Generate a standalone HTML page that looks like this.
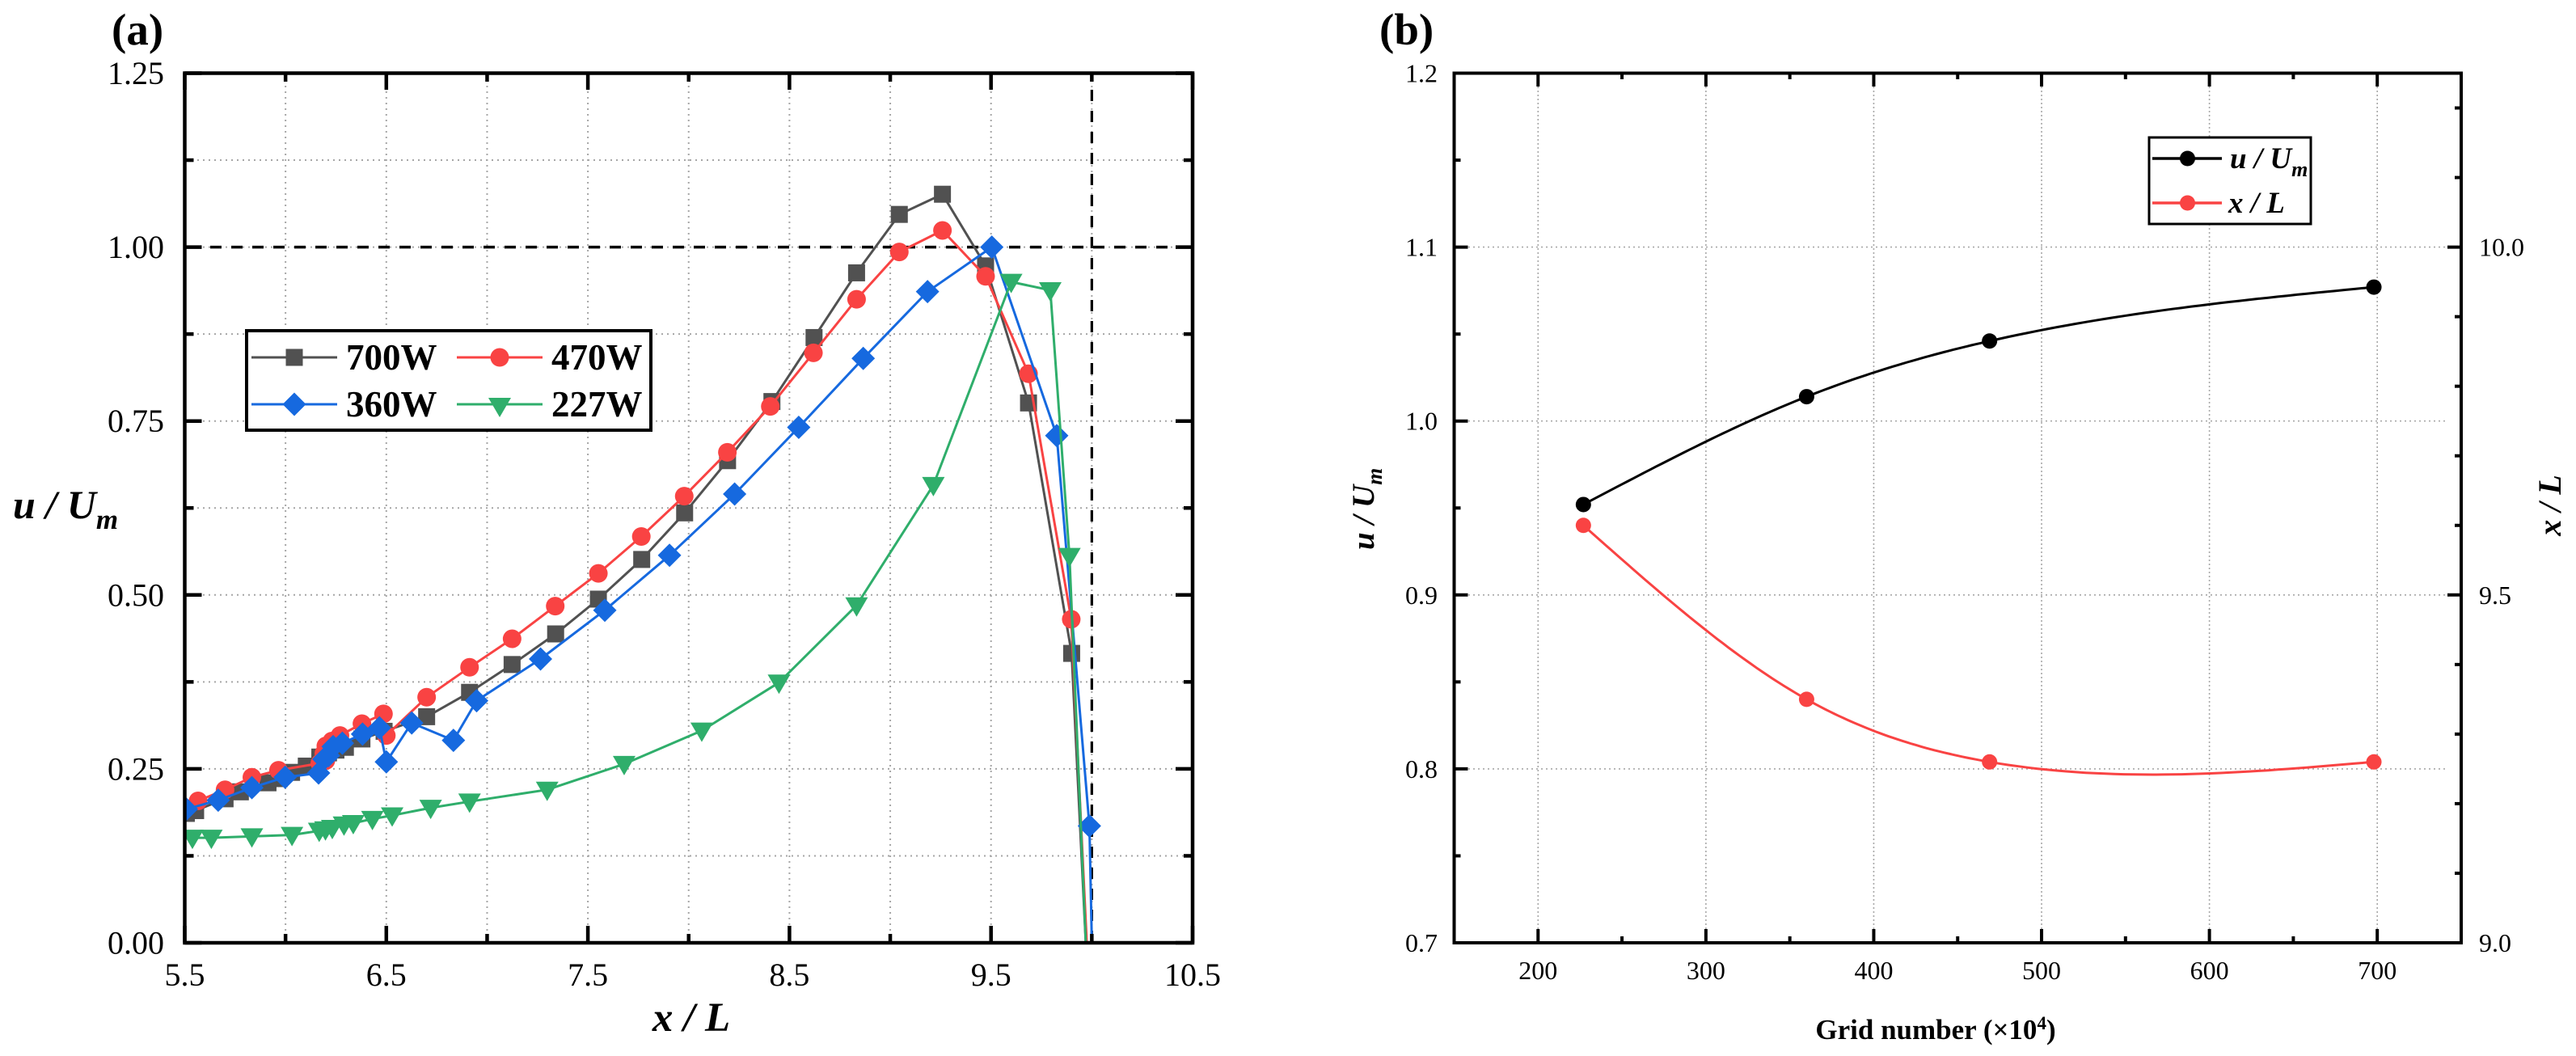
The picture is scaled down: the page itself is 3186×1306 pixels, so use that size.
<!DOCTYPE html>
<html lang="en">
<head>
<meta charset="utf-8">
<title>Velocity ratio and grid independence charts</title>
<style>
html,body{margin:0;padding:0;background:#fff;}
svg{display:block;font-family:"Liberation Serif","Times New Roman",serif;}
.title{font-weight:bold;font-style:italic;fill:#000;}
</style>
</head>
<body>
<svg id="figure" xmlns="http://www.w3.org/2000/svg" width="3186" height="1306" viewBox="0 0 3186 1306">
  <rect x="0" y="0" width="3186" height="1306" fill="#ffffff"/>
  <defs>
    <clipPath id="clip-a"><rect x="228.5" y="90.5" width="1246.5" height="1075.5"/></clipPath>
    <clipPath id="clip-b"><rect x="1798.5" y="90.5" width="1245.5" height="1075.5"/></clipPath>
  </defs>

  <g id="panel-a">
    <g id="grid-a"></g>
    <g id="refs-a"></g>
    <g id="marks-a" clip-path="url(#clip-a)"></g>
    <g id="ticks-a"></g>
    <rect x="228.5" y="90.5" width="1246.5" height="1075.5" fill="none" stroke="#000" stroke-width="4.5"/>
    <text x="138" y="55" font-size="55" font-weight="bold">(a)</text>
    <text class="title" x="855" y="1275" font-size="51" text-anchor="middle" xml:space="preserve">x / L</text>
    <text class="title" x="16" y="641" font-size="50" xml:space="preserve">u / U<tspan font-size="35" dy="13">m</tspan></text>
    <g>
      <rect x="305" y="409" width="500" height="123" fill="#fff" stroke="#000" stroke-width="4"/>
      <g>
        <line x1="311" y1="442" x2="417" y2="442" stroke="#515151" stroke-width="3"/>
        <rect x="353.5" y="431.5" width="21" height="21" fill="#515151"/>
        <text x="428" y="457" font-size="45" font-weight="bold">700W</text>
      </g>
      <g>
        <line x1="565" y1="442" x2="671" y2="442" stroke="#F94343" stroke-width="3"/>
        <circle cx="618" cy="442" r="11.5" fill="#F94343"/>
        <text x="682" y="457" font-size="45" font-weight="bold">470W</text>
      </g>
      <g>
        <line x1="311" y1="500" x2="417" y2="500" stroke="#1669DF" stroke-width="3"/>
        <polygon points="364,485.5 378.5,500 364,514.5 349.5,500" fill="#1669DF"/>
        <text x="428" y="515" font-size="45" font-weight="bold">360W</text>
      </g>
      <g>
        <line x1="565" y1="500" x2="671" y2="500" stroke="#2FAE6B" stroke-width="3"/>
        <polygon points="604,492 632,492 618,516" fill="#2FAE6B"/>
        <text x="682" y="515" font-size="45" font-weight="bold">227W</text>
      </g>
    </g>
  </g>

  <g id="panel-b">
    <g id="grid-b"></g>
    <g id="marks-b" clip-path="url(#clip-b)"></g>
    <g id="ticks-b"></g>
    <rect x="1798.5" y="90.5" width="1245.5" height="1075.5" fill="none" stroke="#000" stroke-width="4"/>
    <text x="1706" y="55" font-size="55" font-weight="bold">(b)</text>
    <text x="2394" y="1285" font-size="35" font-weight="bold" text-anchor="middle">Grid number (×10<tspan font-size="23" dy="-12">4</tspan><tspan dy="12">)</tspan></text>
    <text class="title" transform="translate(1699,680) rotate(-90)" x="0" y="0" font-size="39" xml:space="preserve">u / U<tspan font-size="27" dy="10">m</tspan></text>
    <text class="title" transform="translate(3167,625) rotate(-90)" x="0" y="0" font-size="40" text-anchor="middle" xml:space="preserve">x / L</text>
    <g>
      <rect x="2658" y="170" width="200" height="107" fill="#fff" stroke="#000" stroke-width="3"/>
      <g>
        <line x1="2662" y1="196" x2="2748" y2="196" stroke="#000" stroke-width="3.5"/>
        <circle cx="2705.5" cy="196" r="9.5" fill="#000"/>
        <text class="title" x="2758" y="208" font-size="37" xml:space="preserve">u / U<tspan font-size="26" dy="10">m</tspan></text>
      </g>
      <g>
        <line x1="2662" y1="251" x2="2748" y2="251" stroke="#F94343" stroke-width="3.5"/>
        <circle cx="2705.5" cy="251" r="9.5" fill="#F94343"/>
        <text class="title" x="2756" y="263" font-size="37" xml:space="preserve">x / L</text>
      </g>
    </g>
  </g>
</svg>

<script>
// Panel (a) axis arrays
const xMajorLabelsA = ['5.5', '6.5', '7.5', '8.5', '9.5', '10.5'];
const xMinorValuesA = [6, 7, 8, 9, 10];
const yMajorLabelsA = ['0.00', '0.25', '0.50', '0.75', '1.00', '1.25'];
const yMinorValuesA = [0.125, 0.375, 0.625, 0.875, 1.125];

// Panel (a) series: 700W
const x700W = [5.508, 5.554, 5.7, 5.776, 5.913, 5.968, 6.03, 6.103, 6.17, 6.213, 6.25, 6.297, 6.379, 6.489, 6.7, 6.913, 7.124, 7.34, 7.552, 7.767, 7.98, 8.193, 8.413, 8.622, 8.833, 9.045, 9.259, 9.473, 9.686, 9.9, 9.97];
const y700W = [0.186, 0.19, 0.207, 0.217, 0.23, 0.236, 0.245, 0.254, 0.267, 0.273, 0.277, 0.281, 0.293, 0.304, 0.325, 0.36, 0.4, 0.444, 0.494, 0.551, 0.618, 0.693, 0.778, 0.87, 0.963, 1.047, 1.076, 0.973, 0.776, 0.416, 0];

// Panel (a) series: 470W
const x470W = [5.566, 5.7, 5.833, 5.965, 6.17, 6.2, 6.19, 6.2, 6.23, 6.27, 6.379, 6.486, 6.5, 6.7, 6.913, 7.124, 7.338, 7.552, 7.765, 7.978, 8.192, 8.405, 8.619, 8.833, 9.045, 9.259, 9.473, 9.686, 9.898, 9.975];
const y470W = [0.204, 0.22, 0.238, 0.248, 0.258, 0.262, 0.272, 0.283, 0.29, 0.298, 0.315, 0.329, 0.298, 0.353, 0.396, 0.437, 0.484, 0.531, 0.584, 0.642, 0.705, 0.771, 0.848, 0.925, 0.993, 1.024, 0.958, 0.818, 0.465, 0];

// Panel (a) series: 360W
const x360W = [5.508, 5.666, 5.833, 5.998, 6.164, 6.19, 6.213, 6.236, 6.282, 6.382, 6.466, 6.5, 6.626, 6.833, 6.948, 7.265, 7.584, 7.905, 8.228, 8.546, 8.866, 9.185, 9.504, 9.826, 9.988, 10.0];
const y360W = [0.192, 0.205, 0.223, 0.238, 0.244, 0.264, 0.269, 0.282, 0.287, 0.3, 0.309, 0.26, 0.316, 0.291, 0.348, 0.408, 0.478, 0.557, 0.645, 0.741, 0.84, 0.936, 1.0, 0.729, 0.168, 0];

// Panel (a) series: 227W
const x227W = [5.538, 5.632, 5.833, 6.032, 6.167, 6.198, 6.232, 6.29, 6.336, 6.431, 6.529, 6.72, 6.913, 7.298, 7.68, 8.065, 8.448, 8.833, 9.214, 9.6, 9.794, 9.889, 9.97];
const y227W = [0.151, 0.151, 0.153, 0.155, 0.161, 0.163, 0.165, 0.17, 0.172, 0.178, 0.183, 0.194, 0.203, 0.22, 0.257, 0.305, 0.374, 0.485, 0.658, 0.95, 0.938, 0.556, 0];

// Panel (b) axis arrays
const xMajorLabelsB = ['200', '300', '400', '500', '600', '700'];
const xMinorValuesB = [250, 350, 450, 550, 650];
const yLeftMajorLabelsB = ['0.7', '0.8', '0.9', '1.0', '1.1', '1.2'];
const yLeftMinorValuesB = [0.75, 0.85, 0.95, 1.05, 1.15];
const yRightMajorLabelsB = ['9.0', '9.5', '10.0'];
const yRightMinorValuesB = [9.1, 9.2, 9.3, 9.4, 9.6, 9.7, 9.8, 9.9, 10.1, 10.2];

// Panel (b) series
const gridNumbers = [227, 360, 469, 698];
const velocityRatio = [0.952, 1.014, 1.046, 1.077];
const positionRatio = [9.6, 9.35, 9.26, 9.26];

// Reference line values in panel (a)
const refYValue = [1.0];
const refXValue = [10.0];

const SVGNS = 'http://www.w3.org/2000/svg';

function xA(v) { return 228.5 + (v - 5.5) * 249.3; }
function yA(v) { return 1166 - v * 860.4; }
function xB(v) { return 1798.5 + (v - 150) * 2.0758; }
function yBL(v) { return 1166 - (v - 0.7) * 2151; }
function yBR(v) { return 1166 - (v - 9) * 860.4; }

function makeEl(tag, parentId, name, attrs) {
  const el = document.createElementNS(SVGNS, tag);
  
  
  for (const k in attrs) el.setAttribute(k, attrs[k]);
  document.getElementById(parentId).appendChild(el);
  return el;
}

function line(parentId, name, x1, y1, x2, y2, stroke, width, dash, offset) {
  const a = { x1: x1, y1: y1, x2: x2, y2: y2, stroke: stroke, 'stroke-width': width };
  if (dash) a['stroke-dasharray'] = dash;
  if (offset) a['stroke-dashoffset'] = offset;
  return makeEl('line', parentId, name, a);
}

function label(parentId, name, x, y, txt, size, anchor) {
  const t = makeEl('text', parentId, name, { x: x, y: y, 'font-size': size, 'text-anchor': anchor, fill: '#000' });
  t.textContent = txt;
  return t;
}

/* ---------- Panel (a) axes ---------- */
const gridColA = '#a6a6a6';
const allXA = xMajorLabelsA.map(Number).concat(xMinorValuesA);
const allYA = yMajorLabelsA.map(Number).concat(yMinorValuesA);
allXA.forEach(function (v) {
  if (v > 5.5 && v < 10.5) line('grid-a', 'vertical-gridline-a', xA(v), 92, xA(v), 1164, gridColA, 2, '2 5');
});
allYA.forEach(function (v) {
  if (v > 0 && v < 1.25) line('grid-a', 'horizontal-gridline-a', 230, yA(v), 1473, yA(v), gridColA, 2, '2 5');
});

refYValue.forEach(function (v) {
  line('refs-a', 'reference-line-y-1', 228.5, yA(v), 1475, yA(v), '#000', 3.5, '14 12', 20.5);
});
refXValue.forEach(function (v) {
  line('refs-a', 'reference-line-x-10', xA(v), 90, xA(v), 1166, '#000', 3.2, '14 12', 5);
});

xMajorLabelsA.forEach(function (s) {
  const v = Number(s);
  line('ticks-a', 'x-major-tick-bottom-a', xA(v), 1166, xA(v), 1145, '#000', 4.5);
  line('ticks-a', 'x-major-tick-top-a', xA(v), 90, xA(v), 111, '#000', 4.5);
  label('ticks-a', 'x-tick-label-a', xA(v), 1219, s, 40, 'middle');
});
xMinorValuesA.forEach(function (v) {
  line('ticks-a', 'x-minor-tick-bottom-a', xA(v), 1166, xA(v), 1155, '#000', 4.5);
  line('ticks-a', 'x-minor-tick-top-a', xA(v), 90, xA(v), 101, '#000', 4.5);
});
yMajorLabelsA.forEach(function (s) {
  const v = Number(s);
  line('ticks-a', 'y-major-tick-left-a', 228.5, yA(v), 249.5, yA(v), '#000', 4.5);
  line('ticks-a', 'y-major-tick-right-a', 1475, yA(v), 1454, yA(v), '#000', 4.5);
  label('ticks-a', 'y-tick-label-a', 203, yA(v) + 13.5, s, 40, 'end');
});
yMinorValuesA.forEach(function (v) {
  line('ticks-a', 'y-minor-tick-left-a', 228.5, yA(v), 239.5, yA(v), '#000', 4.5);
  line('ticks-a', 'y-minor-tick-right-a', 1475, yA(v), 1464, yA(v), '#000', 4.5);
});

/* ---------- Panel (a) series ---------- */
function drawSeriesA(name, xs, ys, color, shape) {
  const pts = xs.map(function (x, i) { return xA(x).toFixed(1) + ',' + yA(ys[i]).toFixed(1); }).join(' ');
  makeEl('polyline', 'marks-a', 'series-line-' + name, { points: pts, fill: 'none', stroke: color, 'stroke-width': 3, 'stroke-linejoin': 'round' });
  xs.forEach(function (x, i) {
    const cx = xA(x), cy = yA(ys[i]);
    const isEndpoint = ys[i] === 0;
    if (isEndpoint) return;
    if (shape === 'square') {
      makeEl('rect', 'marks-a', 'marker-' + name, { x: cx - 10.5, y: cy - 10.5, width: 21, height: 21, fill: color });
    } else if (shape === 'circle') {
      makeEl('circle', 'marks-a', 'marker-' + name, { cx: cx, cy: cy, r: 11.5, fill: color });
    } else if (shape === 'diamond') {
      makeEl('polygon', 'marks-a', 'marker-' + name, { points: cx + ',' + (cy - 14.5) + ' ' + (cx + 14.5) + ',' + cy + ' ' + cx + ',' + (cy + 14.5) + ' ' + (cx - 14.5) + ',' + cy, fill: color });
    } else {
      makeEl('polygon', 'marks-a', 'marker-' + name, { points: (cx - 14) + ',' + (cy - 10) + ' ' + (cx + 14) + ',' + (cy - 10) + ' ' + cx + ',' + (cy + 14), fill: color });
    }
  });
}
drawSeriesA('700w', x700W, y700W, '#515151', 'square');
drawSeriesA('470w', x470W, y470W, '#F94343', 'circle');
drawSeriesA('360w', x360W, y360W, '#1669DF', 'diamond');
drawSeriesA('227w', x227W, y227W, '#2FAE6B', 'triangle');

/* ---------- Panel (b) axes ---------- */
const gridColB = '#a8a8a8';
xMajorLabelsB.forEach(function (s) {
  const v = Number(s);
  line('grid-b', 'vertical-gridline-b', xB(v), 92, xB(v), 1164, gridColB, 1.6, '2 3');
  line('ticks-b', 'x-major-tick-bottom-b', xB(v), 1166, xB(v), 1149, '#000', 4);
  line('ticks-b', 'x-major-tick-top-b', xB(v), 90, xB(v), 107, '#000', 4);
  label('ticks-b', 'x-tick-label-b', xB(v), 1211, s, 32, 'middle');
});
xMinorValuesB.forEach(function (v) {
  line('ticks-b', 'x-minor-tick-bottom-b', xB(v), 1166, xB(v), 1158, '#000', 4);
  line('ticks-b', 'x-minor-tick-top-b', xB(v), 90, xB(v), 98, '#000', 4);
});
yLeftMajorLabelsB.forEach(function (s) {
  const v = Number(s);
  if (v > 0.7 && v < 1.2) line('grid-b', 'horizontal-gridline-b', 1816, yBL(v), 3026, yBL(v), gridColB, 1.6, '2 4');
  line('ticks-b', 'y-left-major-tick-b', 1798.5, yBL(v), 1815.5, yBL(v), '#000', 4);
  label('ticks-b', 'y-left-tick-label-b', 1778, yBL(v) + 11, s, 32, 'end');
});
yLeftMinorValuesB.forEach(function (v) {
  line('ticks-b', 'y-left-minor-tick-b', 1798.5, yBL(v), 1806.5, yBL(v), '#000', 4);
});
yRightMajorLabelsB.forEach(function (s) {
  const v = Number(s);
  line('ticks-b', 'y-right-major-tick-b', 3044, yBR(v), 3027, yBR(v), '#000', 4);
  label('ticks-b', 'y-right-tick-label-b', 3066, yBR(v) + 11, s, 32, 'start');
});
yRightMinorValuesB.forEach(function (v) {
  line('ticks-b', 'y-right-minor-tick-b', 3044, yBR(v), 3036, yBR(v), '#000', 4);
});

/* ---------- Panel (b) smooth curves (natural cubic spline through the data) ---------- */
function splinePath(xs, ys, sx, sy) {
  const n = xs.length - 1;
  const h = [], al = [0], l = [1], mu = [0], z = [0], c = new Array(n + 1).fill(0), b = [], d = [];
  for (let i = 0; i < n; i++) h.push(xs[i + 1] - xs[i]);
  for (let i = 1; i < n; i++) al.push(3 / h[i] * (ys[i + 1] - ys[i]) - 3 / h[i - 1] * (ys[i] - ys[i - 1]));
  for (let i = 1; i < n; i++) {
    l[i] = 2 * (xs[i + 1] - xs[i - 1]) - h[i - 1] * mu[i - 1];
    mu[i] = h[i] / l[i];
    z[i] = (al[i] - h[i - 1] * z[i - 1]) / l[i];
  }
  for (let j = n - 1; j >= 0; j--) {
    c[j] = (j === 0 ? 0 : z[j]) - (j === 0 ? 0 : mu[j]) * c[j + 1];
    b[j] = (ys[j + 1] - ys[j]) / h[j] - h[j] * (c[j + 1] + 2 * c[j]) / 3;
    d[j] = (c[j + 1] - c[j]) / (3 * h[j]);
  }
  let out = '';
  for (let i = 0; i < n; i++) {
    for (let s = 0; s <= 40; s++) {
      const t = h[i] * s / 40;
      const v = ys[i] + b[i] * t + c[i] * t * t + d[i] * t * t * t;
      out += (out ? ' L' : 'M') + sx(xs[i] + t).toFixed(1) + ' ' + sy(v).toFixed(1);
    }
  }
  return out;
}
function drawSeriesB(name, ys, sy, color) {
  makeEl('path', 'marks-b', 'series-line-' + name, { d: splinePath(gridNumbers, ys, xB, sy), fill: 'none', stroke: color, 'stroke-width': 3 });
  gridNumbers.forEach(function (g, i) {
    makeEl('circle', 'marks-b', 'marker-' + name, { cx: xB(g), cy: sy(ys[i]), r: 9.5, fill: color });
  });
}
drawSeriesB('position-ratio', positionRatio, yBR, '#F94343');
drawSeriesB('velocity-ratio', velocityRatio, yBL, '#000000');
</script>
</body>
</html>
